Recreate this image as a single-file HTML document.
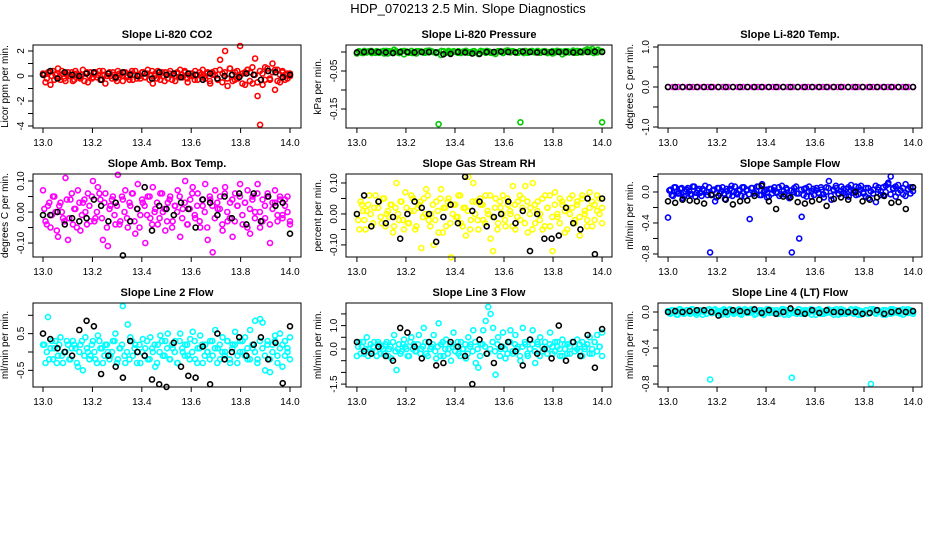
<!DOCTYPE html>
<html><head><meta charset="utf-8"><style>
html,body{margin:0;padding:0;background:#fff}
svg text{font-family:"Liberation Sans",sans-serif}
</style></head><body>
<svg id="c" width="936" height="540" viewBox="0 0 936 540" xmlns="http://www.w3.org/2000/svg">
<rect width="936" height="540" fill="#fff"/>
<text x="468" y="13" text-anchor="middle" font-size="13">HDP_070213  2.5 Min. Slope Diagnostics</text>
</svg>
<script>
const xTickLabels=["13.0","13.2","13.4","13.6","13.8","14.0"];
const titles=["Slope Li-820 CO2","Slope Li-820 Pressure","Slope Li-820 Temp.","Slope Amb. Box Temp.","Slope Gas Stream RH","Slope Sample Flow","Slope Line 2 Flow","Slope Line 3 Flow","Slope Line 4 (LT) Flow"];
const yTitles=["Licor ppm per min.","kPa per min.","degrees C per min.","degrees C per min.","percent per min.","ml/min per min.","ml/min per min.","ml/min per min.","ml/min per min."];
const colors=["#ff0000","#00cc00","#ff00ff","#ff00ff","#ffff00","#0000ff","#00ffff","#00ffff","#00ffff"];
const yTicks=[[2,1,0,-1,-2,-3,-4],[0,-0.05,-0.1,-0.15],[1,0.5,0,-0.5,-1],[0.1,0.05,0,-0.05,-0.1],[0.1,0.05,0,-0.05,-0.1],[0.2,0,-0.2,-0.4,-0.6,-0.8],[1,0.5,0,-0.5],[1.5,1,0.5,0,-0.5,-1,-1.5],[0,-0.2,-0.4,-0.6,-0.8]];
const yTickLabels=[["2","","0","","-2","","-4"],["","-0.05","","-0.15"],["1.0","","0.0","","-1.0"],["0.10","","0.00","","-0.10"],["0.10","","0.00","","-0.10"],["","0.0","","-0.4","","-0.8"],["","0.5","","-0.5"],["","1.0","","0.0","","","-1.5"],["0.0","","-0.4","","-0.8"]];
const co2Main=[0.2,-0.5,0.3,-0.7,0.4,0.1,0.6,-0.3,0.2,-0.4,0.3,0.0,-0.4,0.4,0.1,-0.2,0.5,0.2,-0.5,0.3,-0.1,0.3,0.1,-0.3,0.4,-0.6,0.2,0.0,0.3,-0.2,0.4,0.1,-0.4,0.3,0.0,0.2,-0.3,0.4,0.1,-0.2,0.3,-0.1,0.5,0.1,-0.6,0.2,0.4,-0.3,0.0,0.3,-0.2,0.4,0.1,-0.4,0.2,0.5,-0.1,0.3,-0.5,0.2,0.0,0.4,-0.3,0.1,0.5,-0.2,0.3,-0.6,0.1,0.4,-0.3,1.3,0.2,2.0,-0.8,0.6,-0.4,0.3,-0.2,2.4,0.2,-0.7,0.5,0.3,-0.6,1.4,-1.6,-3.9,-0.7,0.7,0.4,-0.3,1.0,-1.1,0.5,-0.5,0.3,0.1,-0.2,0.2];
const co2Main2=[0.1,-0.2,0.3,0.0,-0.3,0.2,-0.1,0.4,-0.2,0.1,0.0,0.3,-0.3,0.2,-0.1,0.1,-0.4,0.3,0.0,-0.2,0.2,-0.1,0.4,-0.3,0.1,0.0,0.3,-0.2,0.1,-0.4,0.2,0.0,0.3,-0.1,-0.3,0.4,0.1,-0.2,0.0,0.3,-0.1,0.2,-0.3,0.4,0.0,-0.2,0.1,0.3,-0.4,0.1,0.2,-0.3,0.0,0.3,-0.1,0.1,0.4,-0.2,0.0,0.2,-0.3,0.1,0.3,-0.1,0.0,0.2,-0.4,0.3,0.1,-0.2,0.5,-0.5,0.3,-0.2,0.6,0.1,-0.3,0.4,0.0,-0.6,0.3,0.5,-0.4,0.7,0.1,-0.5,0.4,0.2,-0.3,0.6,-0.2,0.3,0.5,-0.4,0.1,0.4,-0.3,0.2,0.0];
const co2Black=[0.1,0.4,-0.2,0.3,0.1,0.0,0.2,0.3,-0.3,0.2,-0.1,0.3,0.1,0.0,0.2,-0.2,0.3,0.1,0.2,-0.1,0.2,0.1,-0.3,0.2,-0.2,0.0,0.1,-0.1,0.2,0.1,-0.3,0.4,0.3,-0.1,0.1];
const presMain=[-0.004,0.001,-0.002,0.003,-0.001,0.002,-0.003,0.000,0.002,-0.002,0.001,-0.004,0.003,0.002,-0.001,0.006,0.000,-0.003,0.002,-0.006,0.001,-0.002,0.003,0.000,-0.004,0.002,0.001,-0.002,0.003,-0.001,0.002,0.000,-0.003,-0.190,-0.008,0.002,-0.001,0.003,-0.002,0.001,0.000,0.002,-0.003,0.001,0.003,-0.002,0.000,0.002,-0.001,-0.005,0.003,0.001,-0.002,0.002,0.000,-0.003,-0.005,0.002,0.001,-0.002,0.003,0.004,-0.001,0.002,0.000,-0.002,-0.185,0.001,0.003,-0.002,0.002,0.000,-0.001,0.003,-0.002,0.001,0.002,-0.003,0.000,0.002,-0.001,0.003,0.001,-0.006,-0.002,0.002,0.000,0.001,-0.002,0.003,0.002,-0.001,0.004,0.007,0.000,0.008,0.003,-0.001,0.002,-0.185];
const presMain2=[0.002,-0.003,0.001,0.003,-0.002,0.000,0.003,-0.004,0.001,0.002,-0.001,0.003,0.000,-0.003,0.002,0.001,-0.002,0.004,0.000,-0.001,0.003,-0.003,0.001,0.002,-0.002,0.000,0.003,-0.001,0.002,-0.004,0.001,0.003,-0.002,0.000,0.002,-0.003,0.004,0.001,-0.001,0.002,-0.003,0.000,0.003,0.001,-0.002,0.002,0.000,-0.004,0.003,0.001,0.002,-0.001,0.004,-0.002,0.000,0.003,0.005,-0.003,0.006,0.002];
const presBlack=[-0.001,0.000,0.001,0.000,-0.001,-0.003,0.000,0.000,-0.001,0.000,0.000,-0.001,-0.006,-0.005,0.000,-0.001,-0.004,-0.005,0.000,0.000,0.001,0.000,-0.001,0.001,0.000,-0.001,0.000,0.000,0.000,0.000,-0.001,0.000,0.000,0.001,0.000];
const tempMain=[0,0,0,0,0,0,0,0,0,0,0,0,0,0,0,0,0,0,0,0,0,0,0,0,0,0,0,0,0,0,0,0,0,0,0,0,0,0,0,0,0,0,0,0,0,0,0,0,0,0];
const tempMain2=[];
const tempBlack=[0,0,0,0,0,0,0,0,0,0,0,0,0,0,0,0,0,0,0,0,0,0,0,0,0,0,0,0,0,0,0,0,0,0,0];
const ambMain=[0.07,-0.03,0.02,-0.05,0.05,0.00,-0.08,0.03,-0.02,0.11,-0.09,0.04,-0.04,0.01,0.07,-0.06,0.03,0.00,0.06,-0.03,0.10,-0.02,0.08,0.04,-0.09,0.06,-0.11,0.02,0.05,-0.04,0.12,-0.03,0.04,0.07,-0.05,0.02,0.06,-0.07,0.09,-0.01,0.03,-0.10,0.05,-0.02,0.08,0.01,-0.04,0.06,0.00,-0.06,0.03,0.05,-0.03,0.02,0.07,-0.08,0.01,0.10,-0.04,0.04,0.08,-0.02,0.06,-0.05,0.02,0.09,-0.09,0.04,-0.13,0.07,0.01,0.05,-0.06,0.08,-0.03,0.03,-0.08,0.06,0.02,0.09,-0.04,0.03,0.07,-0.07,0.05,0.00,0.09,-0.05,0.04,-0.02,0.06,-0.10,0.03,0.07,-0.03,0.05,-0.01,0.04,0.00,-0.04];
const ambMain2=[0.01,-0.04,0.03,-0.01,0.05,-0.06,0.02,0.00,-0.03,0.04,-0.02,0.06,0.01,-0.05,0.03,-0.01,0.04,-0.04,0.02,0.05,-0.03,0.00,0.06,-0.02,0.03,-0.05,0.01,0.04,-0.01,0.02,-0.04,0.05,0.00,-0.02,0.03,0.06,-0.03,0.01,-0.05,0.04,0.02,-0.01,0.05,-0.04,0.00,0.03,-0.02,0.06,0.01,-0.03,0.04,-0.05,0.02,0.00,0.05,-0.02,0.03,-0.04,0.01,0.06,-0.01,0.02,-0.03,0.04,0.00,-0.05,0.05,0.02,-0.02,0.03,0.01,-0.04,0.06,0.00,-0.02,0.04,-0.03,0.02,0.05,-0.01,0.03,-0.05,0.01,0.04,-0.02,0.06,0.00,-0.03,0.02,0.05,-0.04,0.01,0.03,-0.01,0.04,-0.02,0.02,0.05,-0.03];
const ambBlack=[-0.01,-0.01,0.00,-0.04,-0.02,-0.03,-0.02,0.04,0.02,-0.03,0.03,-0.14,-0.03,0.01,0.08,-0.06,0.02,0.01,-0.01,0.03,0.01,-0.05,0.04,0.03,-0.01,0.05,-0.02,0.06,-0.04,0.06,-0.03,0.05,0.02,0.03,-0.07];
const rhMain=[0.00,-0.05,0.03,-0.02,0.01,0.06,-0.04,0.02,-0.15,0.04,-0.03,0.05,0.00,-0.01,0.03,-0.04,0.10,-0.02,0.04,-0.05,0.02,-0.03,0.06,0.01,-0.04,0.03,-0.11,0.05,0.08,-0.02,0.00,-0.10,0.04,-0.06,0.08,0.02,-0.04,0.05,-0.14,0.03,-0.01,0.06,-0.03,0.02,-0.07,0.12,-0.02,0.10,0.04,-0.05,0.03,-0.02,0.06,0.00,-0.08,-0.12,0.05,-0.03,0.02,0.06,-0.04,0.03,0.00,0.09,-0.05,0.04,-0.02,0.05,0.09,-0.06,0.02,0.10,-0.03,0.04,0.00,-0.05,0.06,0.02,-0.04,-0.12,0.07,-0.01,0.05,0.03,-0.06,0.02,0.00,0.06,-0.03,0.04,-0.07,0.05,0.01,-0.02,0.07,-0.04,0.03,0.06,0.00,0.02];
const rhMain2=[-0.02,0.04,0.01,-0.05,0.03,0.00,-0.03,0.06,0.02,-0.01,0.05,-0.04,0.01,0.03,-0.06,0.02,0.00,0.04,-0.02,0.07,-0.03,0.01,0.05,-0.05,0.02,0.04,-0.01,0.00,0.06,-0.04,0.03,-0.02,0.01,0.05,-0.06,0.02,0.04,-0.03,0.00,0.03,-0.01,0.06,-0.04,0.02,0.01,-0.05,0.04,0.00,-0.02,0.05,0.03,-0.03,0.01,0.06,-0.01,0.02,-0.05,0.04,0.00,-0.02,0.05,0.01,-0.04,0.03,-0.01,0.06,0.02,-0.03,0.04,0.00,-0.05,0.03,0.01,-0.02,0.05,-0.04,0.02,0.06,-0.01,0.03,0.00,-0.03,0.04,0.01,-0.05,0.05,0.02,-0.02,0.03,-0.01,0.06,0.00,-0.04,0.02,0.04,-0.02,0.01,0.05,-0.03];
const rhBlack=[0.00,0.06,-0.04,0.04,-0.03,-0.01,-0.08,0.00,0.04,0.02,0.00,-0.09,-0.01,0.03,-0.03,0.12,0.01,0.04,-0.04,-0.01,0.00,0.04,-0.03,0.01,-0.12,0.00,-0.08,-0.08,-0.07,0.02,-0.03,-0.05,0.05,-0.13,0.05];
const sampleMain=[-0.33,0.03,-0.05,0.06,-0.02,0.04,-0.08,0.01,0.05,-0.03,0.07,-0.06,0.02,-0.01,0.04,0.08,-0.04,-0.78,0.02,-0.12,0.05,-0.02,0.06,-0.09,0.01,0.04,-0.05,0.07,-0.03,0.02,0.06,-0.06,0.03,-0.35,0.05,-0.01,0.07,-0.04,0.10,0.02,-0.07,0.04,-0.02,0.06,0.00,-0.05,0.08,-0.03,0.03,-0.08,-0.78,0.05,-0.02,-0.60,-0.32,0.04,-0.06,0.07,0.01,-0.04,0.05,-0.02,0.03,-0.07,0.06,0.14,-0.10,0.02,0.05,-0.03,0.07,-0.01,0.04,-0.06,0.09,0.02,-0.04,0.06,0.08,-0.02,0.05,-0.08,-0.98,0.03,-0.13,0.06,0.01,-0.04,0.08,0.12,0.20,0.05,-0.06,0.09,0.02,-0.03,0.10,0.04,-0.02,0.06];
const sampleMain2=[0.02,-0.04,0.06,0.00,-0.02,0.05,-0.06,0.03,0.01,-0.03,0.07,-0.01,0.04,-0.05,0.02,0.00,0.06,-0.03,0.03,-0.07,0.05,0.01,-0.02,0.04,-0.04,0.08,0.00,-0.01,0.03,-0.05,0.06,0.02,-0.03,0.05,-0.02,0.01,0.07,-0.04,0.00,0.03,-0.06,0.04,0.02,-0.01,0.06,-0.03,0.01,0.05,-0.05,0.02,0.00,0.07,-0.02,0.03,-0.04,0.05,0.01,-0.06,0.04,0.02,-0.01,0.06,-0.03,0.00,0.05,-0.05,0.03,0.08,-0.02,0.01,0.04,-0.04,0.06,0.02,-0.01,0.07,-0.03,0.03,0.00,-0.06,0.05,0.01,-0.02,0.08,0.03,-0.04,0.06,0.00,0.10,-0.03,0.04,0.07,-0.01,0.02,0.05,-0.05,0.03,0.06,0.01];
const sampleBlack=[-0.12,-0.14,-0.10,-0.11,-0.12,-0.15,-0.04,-0.05,-0.10,-0.16,-0.12,-0.11,-0.05,0.08,-0.12,-0.22,-0.06,-0.07,-0.13,-0.15,-0.12,-0.10,-0.18,-0.09,-0.07,-0.10,0.00,-0.12,-0.10,-0.07,-0.05,-0.14,-0.13,-0.22,0.06];
const line2Main=[0.2,-0.3,0.95,0.1,-0.2,0.3,-0.1,0.4,-0.3,0.0,0.2,-0.2,0.3,0.1,-0.4,0.2,-0.5,0.4,0.0,-0.1,0.3,-0.2,0.45,0.1,-0.3,0.2,0.0,-0.1,0.3,0.5,-0.2,0.1,1.25,-0.3,0.75,0.4,-0.1,0.2,0.0,-0.3,0.35,0.1,-0.2,0.4,0.0,-0.4,0.2,0.45,-0.1,0.3,0.5,-0.2,0.1,0.3,-0.3,0.5,0.0,0.2,-0.1,0.35,0.55,-0.2,0.1,0.45,-0.3,0.2,0.0,0.3,-0.1,0.6,0.1,-0.2,0.4,0.0,0.3,-0.3,0.2,0.55,-0.1,0.3,0.0,0.4,-0.2,0.6,0.1,0.85,-0.2,0.9,0.8,-0.5,0.3,-0.55,0.2,0.45,-0.1,0.5,-0.4,0.3,0.1,0.4];
const line2Main2=[0.2,0.0,-0.2,0.3,0.1,-0.3,0.2,-0.1,0.0,0.3,-0.2,0.1,0.2,-0.3,0.0,0.3,-0.1,0.1,-0.2,0.2,0.0,-0.3,0.3,0.1,-0.1,0.2,-0.2,0.0,0.3,-0.3,0.1,0.2,-0.1,0.0,-0.2,0.3,0.1,-0.3,0.2,0.0,-0.1,0.3,-0.2,0.1,0.2,-0.3,0.0,0.3,-0.1,0.1,-0.2,0.2,0.0,-0.3,0.3,0.1,-0.1,0.2,-0.2,0.0,0.3,-0.3,0.1,0.2,-0.1,0.0,-0.2,0.3,0.1,-0.3,0.2,0.0,-0.1,0.3,-0.2,0.1,0.2,-0.3,0.0,0.3,-0.1,0.1,-0.2,0.2,0.0,-0.3,0.3,0.1,-0.1,0.2,-0.2,0.0,0.3,-0.3,0.1,0.2,-0.1,0.0,-0.2];
const line2Black=[0.5,0.35,0.1,0.0,-0.1,0.6,0.85,0.7,-0.6,-0.1,-0.4,-0.7,0.3,0.0,-0.1,-0.75,-0.88,-0.95,0.25,-0.4,-0.65,-0.7,0.15,-0.88,0.5,-0.2,0.0,0.4,-0.1,0.2,0.4,-0.2,0.25,-0.85,0.7];
const line3Main=[-0.3,0.3,0.1,-0.2,0.5,0.0,-0.1,0.3,-0.3,0.2,0.1,-0.2,0.3,0.0,-0.4,0.6,-0.9,0.2,-0.1,0.4,0.0,-0.3,0.5,0.2,-0.1,0.6,0.0,0.9,-0.2,0.3,0.1,0.6,-0.4,1.1,0.2,-0.3,0.4,0.0,-0.5,0.7,0.1,-0.2,0.3,0.0,-0.4,0.5,0.2,0.8,-0.6,-0.8,0.2,0.8,1.2,1.8,1.5,0.9,-1.1,0.5,0.0,0.7,-0.4,0.3,0.8,-0.2,0.6,0.1,-0.5,0.9,0.2,-0.3,0.4,0.8,-0.6,0.2,0.5,-0.1,0.3,0.0,0.7,-0.2,0.3,0.1,-0.3,0.4,0.0,0.2,-0.2,0.3,0.1,0.4,-0.1,0.3,0.0,0.2,0.5,-0.2,0.3,0.6,0.1,0.7];
const line3Main2=[0.1,-0.2,0.3,0.0,-0.3,0.2,0.1,-0.1,0.3,-0.2,0.0,0.2,-0.3,0.1,0.3,-0.1,0.0,-0.2,0.2,0.1,-0.3,0.3,0.0,-0.1,0.2,-0.2,0.1,0.3,-0.3,0.0,0.2,-0.1,0.1,-0.3,0.3,0.0,-0.2,0.2,0.1,-0.1,0.3,-0.3,0.0,0.2,-0.2,0.1,-0.1,0.3,0.0,-0.3,0.2,0.1,-0.2,0.0,0.3,-0.1,0.2,-0.3,0.1,0.0,-0.2,0.3,-0.1,0.2,0.0,-0.3,0.1,0.3,-0.2,0.0,0.2,-0.1,0.3,-0.3,0.1,0.0,-0.2,0.2,0.1,-0.1,0.3,0.0,-0.3,0.2,-0.2,0.1,0.3,-0.1,0.0,0.2,-0.3,0.1,0.2,-0.2,0.0,0.3,-0.1,0.1,-0.3];
const line3Black=[0.3,-0.1,-0.2,0.1,-0.3,-0.5,0.9,0.7,0.1,-0.4,0.3,-0.7,-0.6,0.3,0.1,-0.3,-1.5,0.4,-0.2,-0.6,0.1,0.3,-0.1,-0.7,0.4,-0.2,0.0,-0.4,1.0,-0.5,0.3,-0.3,0.6,-0.8,0.85];
const line4Main=[0.01,-0.02,0.02,0.00,-0.03,0.03,0.01,-0.01,0.02,-0.02,0.03,0.00,-0.01,0.02,-0.03,0.01,0.02,-0.75,-0.01,0.03,0.00,-0.02,0.02,0.01,-0.03,0.03,0.00,-0.01,0.02,-0.02,0.01,0.03,-0.01,0.00,0.02,-0.03,0.01,0.02,-0.02,0.00,0.03,-0.01,0.02,0.00,-0.02,0.01,0.03,-0.03,0.02,-0.01,-0.73,0.01,-0.02,0.03,0.00,0.02,-0.01,0.01,-0.03,0.02,0.00,0.03,-0.02,0.01,-0.01,0.02,0.00,-0.03,0.03,0.01,-0.02,0.02,0.00,-0.01,0.03,-0.02,0.01,0.02,-0.03,0.00,0.02,-0.01,-0.80,0.03,-0.02,0.01,0.00,0.02,-0.03,0.01,0.03,-0.01,0.02,0.00,-0.02,0.03,0.01,-0.01,0.02,0.00];
const line4Main2=[-0.01,0.02,0.00,-0.03,0.03,0.01,-0.02,0.02,0.00,0.03,-0.01,-0.03,0.02,0.01,0.00,-0.02,0.03,-0.01,0.02,0.00,0.01,-0.03,0.03,-0.01,0.02,0.00,-0.02,0.01,0.03,-0.03,0.00,0.02,-0.01,0.03,0.01,-0.02,0.00,0.02,-0.03,0.01,0.03,0.00,-0.01,0.02,-0.02,0.01,0.03,0.00,-0.03,0.02,-0.01,0.01,0.03,-0.02,0.00,0.02,-0.01,0.03,0.01,-0.03,0.02,0.00,-0.02,0.01,0.03,-0.01,0.02,0.00,-0.03,0.03,0.01,-0.02,0.00,0.02,-0.01,0.03,-0.03,0.01,0.00,0.02,-0.02,0.03,0.01,-0.01,0.02,0.00,-0.03,0.02,0.01,-0.02,0.03,0.00,-0.01,0.02,-0.03,0.01,0.03,0.00,-0.02];
const line4Black=[0.00,0.01,0.00,0.01,0.02,0.02,0.00,-0.04,0.00,0.02,0.01,0.00,0.03,-0.01,0.02,-0.02,0.00,0.04,0.00,-0.02,0.02,-0.01,0.02,0.00,0.00,0.00,0.00,-0.02,-0.01,0.02,-0.02,0.00,0.01,0.00,0.01];
const mainSeries=[co2Main,presMain,tempMain,ambMain,rhMain,sampleMain,line2Main,line3Main,line4Main];
const mainSeries2=[co2Main2,presMain2,tempMain2,ambMain2,rhMain2,sampleMain2,line2Main2,line3Main2,line4Main2];
const blackSeries=[co2Black,presBlack,tempBlack,ambBlack,rhBlack,sampleBlack,line2Black,line3Black,line4Black];
const yDomains=[[2.48,-4.16],[0.0184,-0.2],[1.05,-1.025],[0.1226,-0.145],[0.129,-0.139],[0.232,-0.839],[1.335,-0.954],[1.966,-1.624],[0.1,-0.833]];
const xStart=13.0, xEnd=14.0;

const NS="http://www.w3.org/2000/svg";
const svg=document.getElementById('c');
const colBox=[[33,301,12.9595,14.0445],[346,612,12.9555,14.0405],[658,922,12.959,14.0367]];
const rowBox=[[45,128],[174,257],[303,387]];
function mk(tag,attrs,parent){const e=document.createElementNS(NS,tag);for(const k in attrs)e.setAttribute(k,attrs[k]);(parent||svg).appendChild(e);return e;}
for(let p=0;p<9;p++){
  const c=colBox[p%3], r=rowBox[Math.floor(p/3)];
  const [L,R,x0,x1]=c,[T,B]=r;
  const xs=v=>L+(v-x0)/(x1-x0)*(R-L);
  const ys=v=>T+(yDomains[p][0]-v)/(yDomains[p][0]-yDomains[p][1])*(B-T);
  const g=mk('g',{});
  
  
  const t=mk('text',{x:(L+R)/2,y:T-7,'text-anchor':'middle','font-size':'11','font-weight':'bold'},g);
  t.textContent=titles[p];
  
  
  const yt=mk('text',{transform:`translate(${L-25},${(T+B)/2}) rotate(-90)`,'text-anchor':'middle','font-size':'10'},g);
  yt.textContent=yTitles[p];
  
  
  const pts=mk('g',{fill:'none','stroke-width':'1.6'},g);
  
  
  const drawSeries=(arr,col,off)=>{const n=arr.length;arr.forEach((v,i)=>{const cx=xs(xStart+(xEnd-xStart)*(i+off)/(n-1+off));const cy=ys(v);if(cy<T-3||cy>B+3)return;
    const m=mk('circle',{cx:cx.toFixed(1),cy:cy.toFixed(1),r:'2.5',stroke:col},pts);
    
    });};
  drawSeries(mainSeries[p],colors[p],0);
  drawSeries(mainSeries2[p],colors[p],0.5);
  drawSeries(blackSeries[p],'#000',0);
  const box=mk('rect',{x:L,y:T,width:R-L,height:B-T,fill:'none',stroke:'#000','stroke-width':'1'},g);
  
  
  xTickLabels.forEach(lb=>{const v=parseFloat(lb);const x=xs(v);
    mk('line',{x1:x,x2:x,y1:B,y2:B+5,stroke:'#000'},g);
    const tx=mk('text',{x:x,y:B+18,'text-anchor':'middle','font-size':'10'},g);tx.textContent=lb;
    
    });
  yTicks[p].forEach((v,i)=>{const y=ys(v);
    mk('line',{x1:L-5,x2:L,y1:y,y2:y,stroke:'#000'},g);
    if(yTickLabels[p][i]){const ty=mk('text',{transform:`translate(${L-9},${y}) rotate(-90)`,'text-anchor':'middle','font-size':'10'},g);ty.textContent=yTickLabels[p][i];
      
      }});
}
</script>
</body></html>
